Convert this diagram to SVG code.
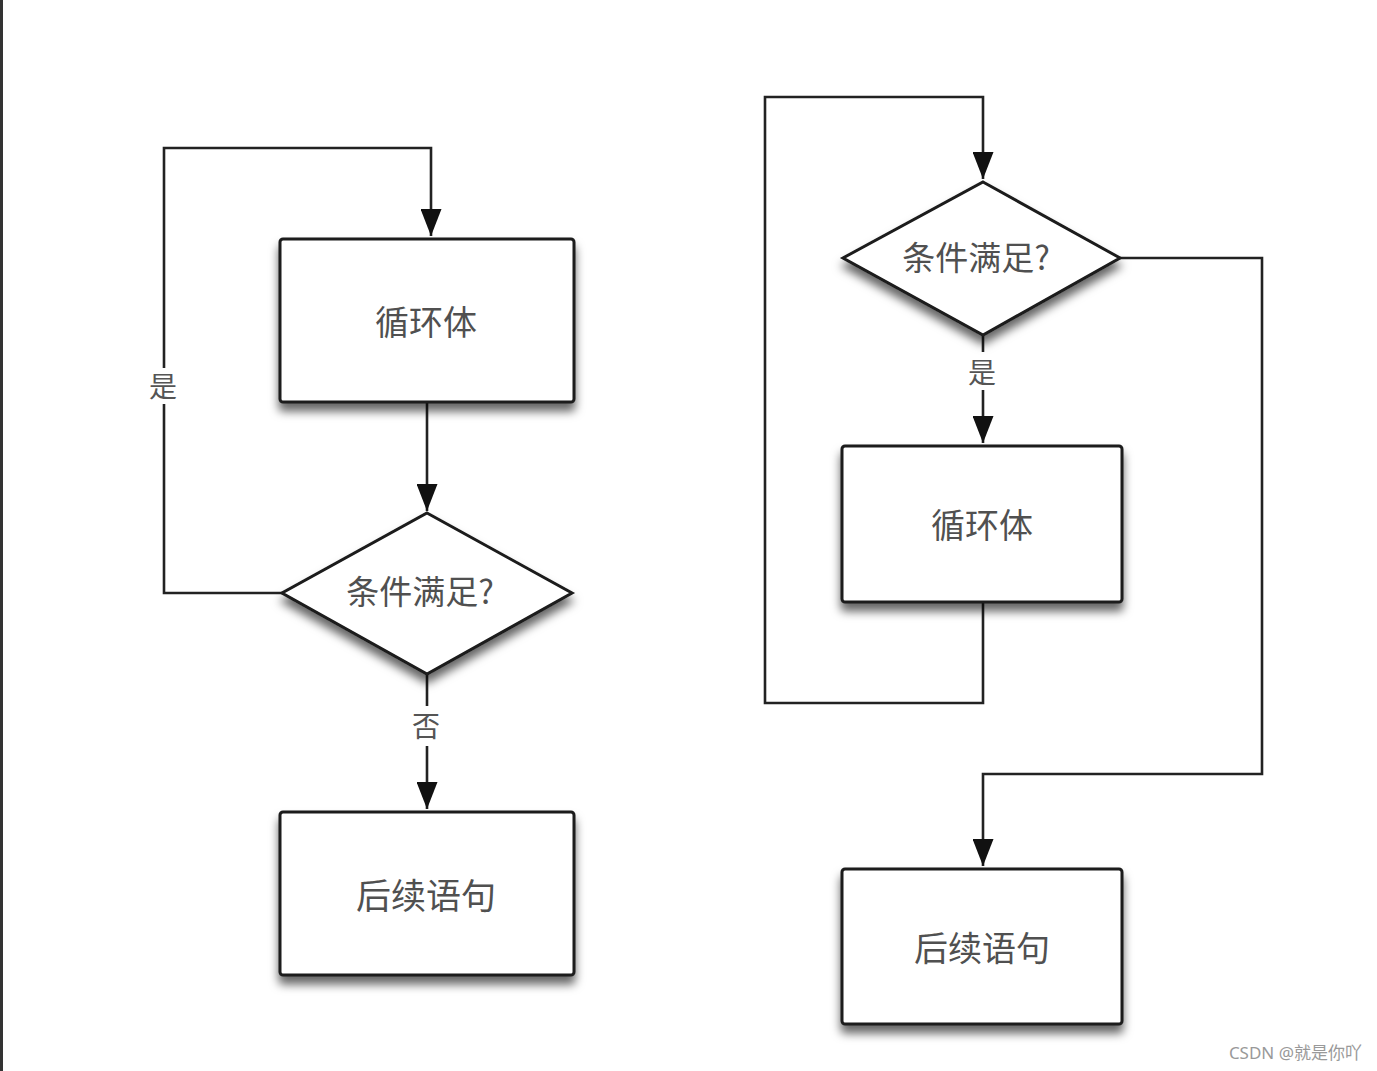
<svg xmlns="http://www.w3.org/2000/svg" width="1377" height="1071" viewBox="0 0 1377 1071">
<style>
.node{fill:#fff;stroke:#1a1a1a;stroke-width:3;filter:url(#sh)}
.lbl{font-family:"Noto Sans CJK SC","Noto Sans",sans-serif;fill:#505050;text-anchor:middle;dominant-baseline:central}
.edge{fill:none;stroke:#222;stroke-width:2.6}
.elbl{font-family:"Noto Sans CJK SC","Noto Sans",sans-serif;fill:#555;text-anchor:middle;dominant-baseline:central;font-size:28px}
</style>
<defs>
<filter id="sh" x="-20%" y="-20%" width="140%" height="150%">
<feDropShadow dx="0" dy="8" stdDeviation="5" flood-color="#000" flood-opacity="0.6"/>
</filter>
<marker id="arr" markerWidth="27" markerHeight="21" refX="27" refY="10.5" orient="auto" markerUnits="userSpaceOnUse" viewBox="0 0 27 21">
<path d="M0,0 L27,10.5 L0,21 Z" fill="#111"/>
</marker>
</defs>
<rect width="1377" height="1071" fill="#fff"/>
<rect x="0" y="0" width="3" height="1071" fill="#333"/>

<g id="connectors">
<path class="edge" d="M282,593 H164 V148 H431 V236" marker-end="url(#arr)"/>
<path class="edge" d="M427,402 V511" marker-end="url(#arr)"/>
<path class="edge" d="M427,674 V706 M427,746 V809" marker-end="url(#arr)"/>
<path class="edge" d="M983,602 V703 H765 V97 H983 V179" marker-end="url(#arr)"/>
<path class="edge" d="M983,336 V352 M983,390 V443" marker-end="url(#arr)"/>
<path class="edge" d="M1120,258 H1262 V774 H983 V866" marker-end="url(#arr)"/>
<rect x="150" y="368" width="28" height="36" fill="#fff"/>
<text class="elbl" x="163" y="385">是</text>
<text class="elbl" x="426" y="725">否</text>
<text class="elbl" x="982" y="371">是</text>
</g>

<g id="n1">
<rect class="node" x="280" y="239" width="294" height="163" rx="3"/>
<text class="lbl" x="426" y="320" font-size="34">循环体</text>
</g>
<g id="n2">
<polygon class="node" points="427,513 572,593 427,674 282,593"/>
<text class="lbl" x="420" y="590" font-size="33">条件满足?</text>
</g>
<g id="n3">
<rect class="node" x="280" y="812" width="294" height="163" rx="3"/>
<text class="lbl" x="426" y="893" font-size="35">后续语句</text>
</g>
<g id="n4">
<polygon class="node" points="983,182 1120,258 983,335 843,258"/>
<text class="lbl" x="976" y="256" font-size="33">条件满足?</text>
</g>
<g id="n5">
<rect class="node" x="842" y="446" width="280" height="156" rx="3"/>
<text class="lbl" x="982" y="523" font-size="34">循环体</text>
</g>
<g id="n6">
<rect class="node" x="842" y="869" width="280" height="155" rx="3"/>
<text class="lbl" x="982" y="946" font-size="34">后续语句</text>
</g>
<text x="1362" y="1059" font-family="'Noto Sans','Noto Sans CJK SC',sans-serif" font-size="17" fill="#999" text-anchor="end">CSDN @就是你吖</text>
</svg>
